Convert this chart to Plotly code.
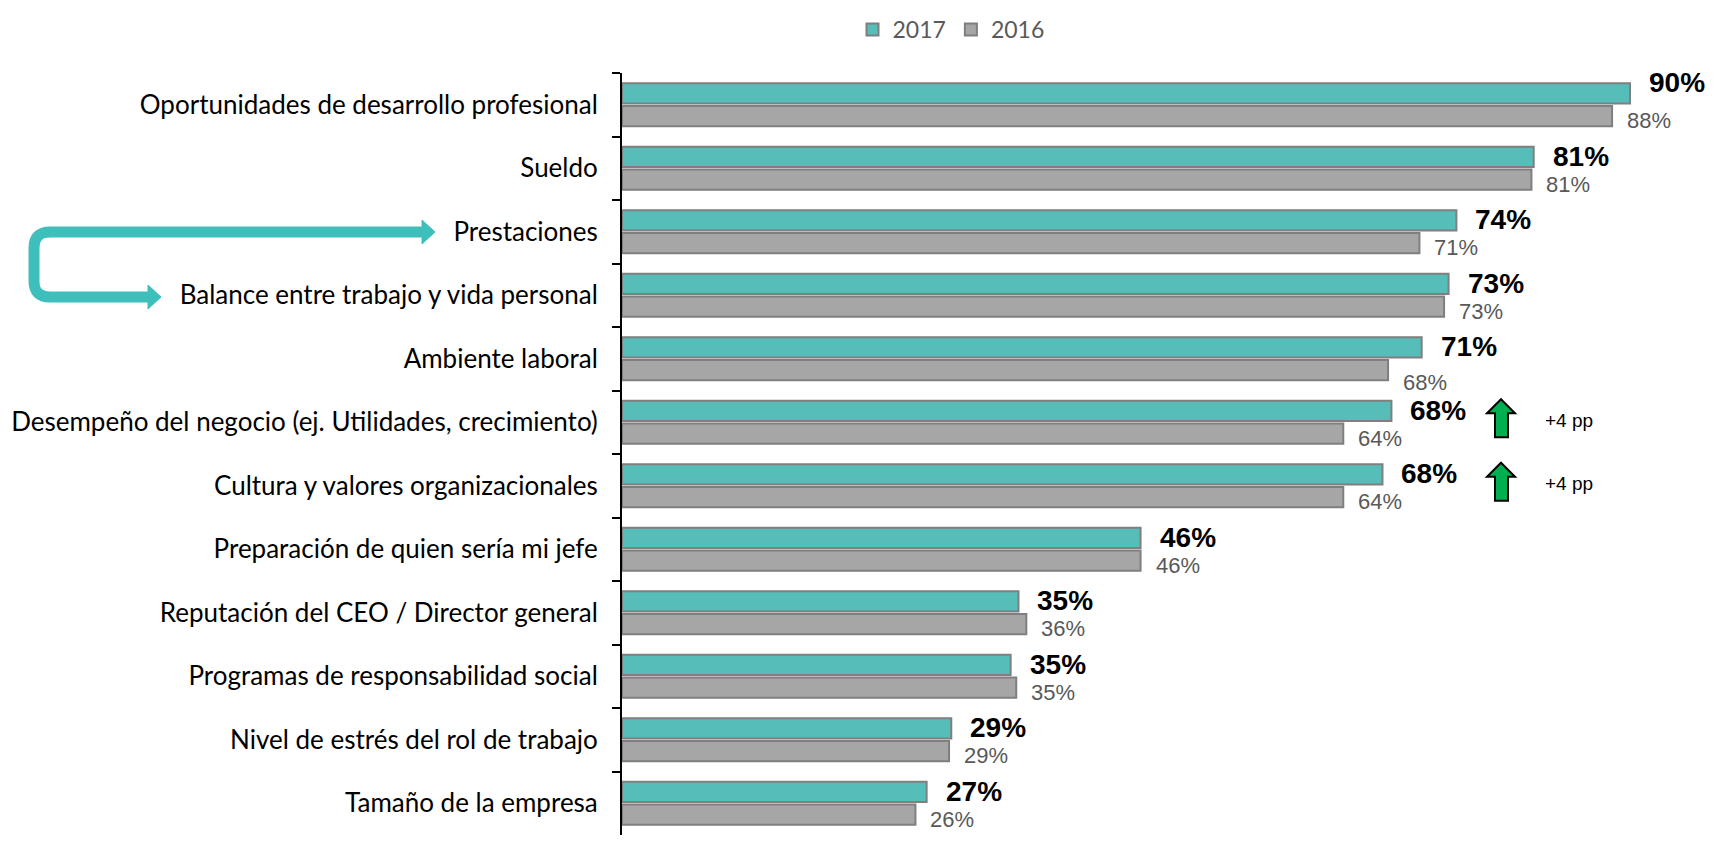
import plotly.graph_objects as go

# datos
categorias = [
    "Oportunidades de desarrollo profesional",
    "Sueldo",
    "Prestaciones",
    "Balance entre trabajo y vida personal",
    "Ambiente laboral",
    "Desempeño del negocio (ej. Utilidades, crecimiento)",
    "Cultura y valores organizacionales",
    "Preparación de quien sería mi jefe",
    "Reputación del CEO / Director general",
    "Programas de responsabilidad social",
    "Nivel de estrés del rol de trabajo",
    "Tamaño de la empresa",
]
valores_2017 = [90.0, 81.4, 74.5, 73.8, 71.4, 68.7, 67.9, 46.3, 35.4, 34.7, 29.4, 27.2]
valores_2016 = [88.4, 81.2, 71.2, 73.4, 68.4, 64.4, 64.4, 46.3, 36.1, 35.2, 29.2, 26.2]
etiquetas_2017 = ["90%", "81%", "74%", "73%", "71%", "68%", "68%", "46%", "35%", "35%", "29%", "27%"]
etiquetas_2016 = ["88%", "81%", "71%", "73%", "68%", "64%", "64%", "46%", "36%", "35%", "29%", "26%"]
cambios = ["", "", "", "", "", "+4 pp", "+4 pp", "", "", "", "", ""]

# the page adds an 8px body margin, so the figure is 16px smaller
OFF = 8
W, H = 1719 - 2 * OFF, 843 - 2 * OFF
X0, X1, Y0, Y1 = 622, 1699, 73, 835   # plot area in page pixels
L, R, T, B = X0 - OFF, W - (X1 - OFF), Y0 - OFF, H - (Y1 - OFF)
pw, ph = X1 - X0, Y1 - Y0


def px(x):
    return (x - X0) / pw


def py(y):
    return (Y1 - y) / ph


def pt(p):
    return f"{px(p[0]):.5f},{py(p[1]):.5f}"


def polygon(pts):
    return "M " + pt(pts[0]) + "".join(" L " + pt(p) for p in pts[1:]) + " Z"


TEAL = "#56BDB9"
GRIS = "#A6A6A6"
BORDE = "#7F7F7F"

fig = go.Figure()
fig.add_trace(go.Bar(
    y=categorias, x=valores_2017, name="2017", orientation="h",
    marker=dict(color=TEAL, line=dict(color=BORDE, width=2)),
))
fig.add_trace(go.Bar(
    y=categorias, x=valores_2016, name="2016", orientation="h",
    marker=dict(color=GRIS, line=dict(color=BORDE, width=2)),
))

# small manual nudges of some labels, as in the original
nudge_2017 = {0: 10}
nudge_2016 = {4: -8}

anns = []
for i, (cat, v, t) in enumerate(zip(categorias, valores_2017, etiquetas_2017)):
    anns.append(dict(x=v, y=cat, text=t, showarrow=False, xanchor="left",
                     xshift=17, yshift=12 + nudge_2017.get(i, 0),
                     font=dict(family="Liberation Sans, Arial", size=28, color="black",
                               weight="bold")))
for i, (cat, v, t) in enumerate(zip(categorias, valores_2016, etiquetas_2016)):
    anns.append(dict(x=v, y=cat, text=t, showarrow=False, xanchor="left",
                     xshift=13, yshift=-16 + nudge_2016.get(i, 0),
                     font=dict(family="Liberation Sans, Arial", size=22, color="#595959")))

shapes = []
step = ph / len(categorias)
for i, c in enumerate(cambios):
    if not c:
        continue
    cy = Y0 + (i + 0.5) * step - 4
    pts = [(1501, cy - 19), (1515, cy - 5), (1508, cy - 5), (1508, cy + 19),
           (1495, cy + 19), (1495, cy - 5), (1487, cy - 5)]
    shapes.append(dict(type="path", xref="paper", yref="paper", path=polygon(pts),
                       fillcolor="#00B050", line=dict(color="black", width=2)))
    anns.append(dict(xref="paper", yref="paper", x=px(1543), y=py(cy + 2), text=c,
                     showarrow=False, xanchor="left",
                     font=dict(family="Liberation Sans, Arial", size=19, color="black")))

# flecha de conexión
AQ = "#3EBFBC"
ya, yb, xv, r = 232, 297, 34, 16
conector = ("M " + pt((423, ya)) + " L " + pt((xv + r, ya))
            + " Q " + pt((xv, ya)) + " " + pt((xv, ya + r))
            + " L " + pt((xv, yb - r))
            + " Q " + pt((xv, yb)) + " " + pt((xv + r, yb))
            + " L " + pt((149, yb)))
shapes.append(dict(type="path", xref="paper", yref="paper", path=conector,
                   line=dict(color=AQ, width=11)))
for xb, yy in [(422, ya), (148, yb)]:
    shapes.append(dict(type="path", xref="paper", yref="paper",
                       path=polygon([(xb, yy - 12), (xb + 13, yy), (xb, yy + 12)]),
                       fillcolor=AQ, line=dict(color=AQ, width=1)))

fig.update_layout(
    width=W, height=H,
    margin=dict(l=L, r=R, t=T, b=B, autoexpand=False),
    plot_bgcolor="white", paper_bgcolor="white",
    barmode="group", bargap=0.28, bargroupgap=0.12,
    annotations=anns, shapes=shapes,
    legend=dict(orientation="h", xref="container", yref="container",
                x=(951 - OFF) / W, y=1, xanchor="center", yanchor="top",
                font=dict(family="Lato", size=23, color="#595959"), traceorder="normal"),
)
fig.update_xaxes(range=[0, pw / 11.2], visible=False)
fig.update_yaxes(
    categoryorder="array", categoryarray=categorias, autorange="reversed",
    showline=True, linecolor="black", linewidth=2,
    ticks="outside", tickson="boundaries", ticklen=8, tickcolor="black", tickwidth=2,
    ticklabelstandoff=17, showgrid=False, automargin=False,
    tickfont=dict(family="Lato", size=26, color="black"),
)

fig.write_html("out.html")
